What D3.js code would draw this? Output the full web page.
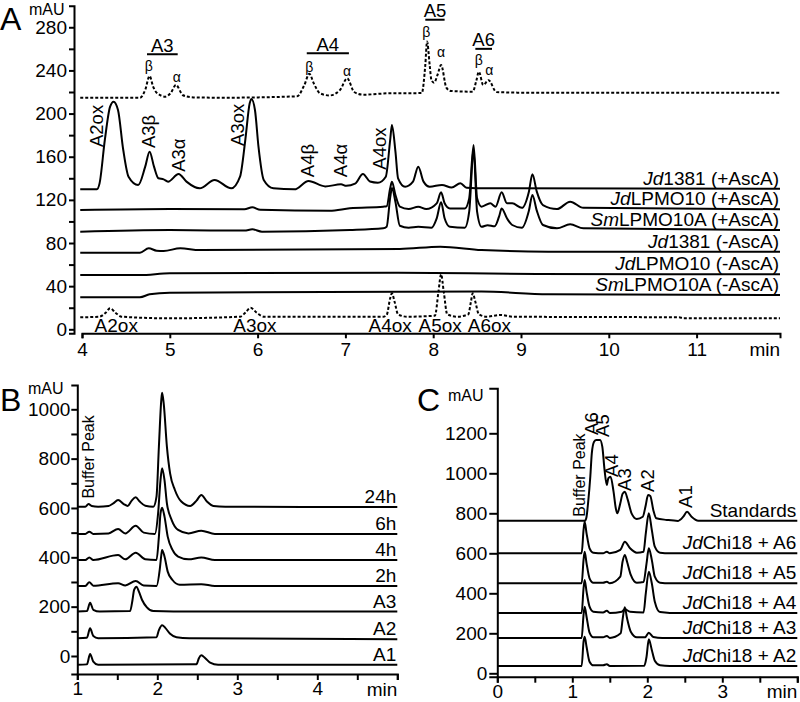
<!DOCTYPE html>
<html>
<head>
<meta charset="utf-8">
<script src="https://cdn.jsdelivr.net/npm/d3@7"></script>
<style>
  body { margin: 0; background: #fff; }
  text { font-family: "Liberation Sans", Arial, sans-serif; fill: #000; }
</style>
</head>
<body>
<svg id="chart" width="800" height="702"></svg>
<script>
// ---------- panel A : HPLC traces, [time (min), mAU] ----------
const aStdNative = [[3.98,214.7],[4.66,214.7],[4.72,222],[4.77,234.8],[4.81,225],[4.85,219.4],[4.95,215.7],[5.01,219],[5.07,226.5],[5.15,217],[5.27,215],[5.6,214.7],[6.45,216],[6.53,226],[6.59,236.8],[6.64,228],[6.71,218.8],[6.82,216.8],[6.94,222],[7.02,232.7],[7.1,220],[7.2,217.5],[7.5,218.8],[7.87,219],[7.91,245],[7.93,266.7],[7.96,245],[7.98,231],[8.01,228.6],[8.05,236],[8.09,245],[8.15,224],[8.2,221],[8.45,220.3],[8.49,230],[8.52,238.8],[8.57,226.5],[8.63,231],[8.72,220],[9.0,219.4],[11.95,219.4]];
const aJd1381Plus = [[3.98,129.8],[4.17,129.8],[4.2,135.3],[4.26,175.5],[4.32,206.4],[4.36,211],[4.41,203.3],[4.47,166.2],[4.53,141.5],[4.64,133.8],[4.72,150.8],[4.77,164.7],[4.82,150.8],[4.87,140],[4.93,139],[4.98,136.9],[5.1,144],[5.19,136.9],[5.34,130.7],[5.51,138.4],[5.7,130.7],[5.8,141.5],[5.86,175.5],[5.91,209.5],[5.93,213.6],[5.97,203.3],[6.01,169.3],[6.07,138.4],[6.18,130.7],[6.42,129.8],[6.58,137.5],[6.77,132.5],[6.95,134.4],[7.01,133],[7.11,135],[7.2,144],[7.28,137],[7.37,135.9],[7.46,141.5],[7.51,175.5],[7.53,189.4],[7.57,164.7],[7.6,140],[7.68,132.2],[7.77,136.9],[7.83,150.8],[7.89,136.9],[7.96,132.2],[8.1,133.8],[8.21,131.4],[8.31,135.4],[8.38,131.3],[8.6,130.7],[11.95,130.2]];
const aJdLPMO10Plus = [[3.98,110.6],[5.0,111.5],[5.85,111.3],[5.94,113.1],[6.03,110.8],[6.82,109.8],[7.05,112.2],[7.43,113.7],[7.47,114],[7.51,130.7],[7.53,136.9],[7.57,124.5],[7.62,113.7],[7.72,111.5],[7.83,113.7],[7.92,111.5],[8.04,116.8],[8.09,127],[8.13,116.8],[8.19,112],[8.36,112],[8.41,121.4],[8.46,170.9],[8.5,121.4],[8.55,113.7],[8.65,116.8],[8.71,113.7],[8.78,127],[8.84,116.8],[8.9,116.8],[9.01,112.6],[9.09,127.6],[9.13,143.7],[9.18,127.6],[9.25,115.2],[9.41,111.5],[9.56,118.3],[9.71,112.6],[11.95,111.3]];
const aSmLPMO10Plus = [[3.98,90.5],[5.0,92],[5.85,91.5],[5.94,92.7],[6.05,90.5],[7.05,92],[7.43,93.6],[7.47,95.1],[7.51,122],[7.53,131],[7.57,118],[7.62,96],[7.72,94.2],[7.83,95],[7.98,94.2],[8.04,102.9],[8.09,117.7],[8.13,102.9],[8.19,95],[8.36,94.2],[8.41,109],[8.46,166],[8.5,109],[8.55,95],[8.62,96.5],[8.7,95.5],[8.75,104.4],[8.78,112],[8.84,102.9],[8.9,96.7],[9.01,94.2],[9.09,110],[9.13,124.5],[9.18,110],[9.25,96.7],[9.41,93.6],[9.56,97.3],[9.71,93.6],[11.95,92]];
const aJd1381Minus = [[3.98,71],[4.66,71],[4.76,75.1],[4.85,72.9],[4.93,72.6],[5.12,75.1],[5.34,73.5],[7.62,74.4],[8.08,76.6],[8.55,73.5],[9.31,72],[11.95,72]];
const aJdLPMO10Minus = [[3.98,50.3],[4.66,50.3],[5.0,51.9],[7.6,52.5],[9.18,51.3],[11.95,51]];
const aSmLPMO10Minus = [[3.98,29.7],[4.66,29.7],[4.77,32.4],[5.0,33.9],[7.6,34.9],[8.55,35],[9.31,32.4],[11.95,31.8]];
const aStdOx = [[3.98,11.1],[4.2,11.7],[4.27,15.4],[4.32,19.5],[4.38,15.4],[4.45,11.7],[5.0,10.2],[5.8,11.7],[5.86,15.4],[5.92,20],[5.99,15.4],[6.07,11.7],[7.43,11.7],[7.47,13.3],[7.51,28.7],[7.53,33.4],[7.56,25.6],[7.6,13.9],[7.7,11.7],[8.02,12.6],[8.06,34.9],[8.09,51],[8.12,34.9],[8.16,13.9],[8.27,11.7],[8.4,13.9],[8.43,25.6],[8.45,33.4],[8.48,25.6],[8.52,13.9],[8.61,11.7],[8.76,13.3],[8.91,11.7],[10.8,11.1],[10.85,10.2],[11.95,10.2]];

const aTraceNames = [["Jd","1381 (+AscA)"],["Jd","LPMO10 (+AscA)"],["Sm","LPMO10A (+AscA)"],["Jd","1381 (-AscA)"],["Jd","LPMO10 (-AscA)"],["Sm","LPMO10A (-AscA)"]];
const aPeakLabels = [["A2ox",4.24,169],["A3β",4.83,168],["A3α",5.17,146],["A3ox",5.84,170],["A4β",6.64,141],["A4α",7.02,141],["A4ox",7.46,148]];
const aGroupLabels = [["A3",4.74,5.09,255],["A4",6.56,7.04,256],["A5",7.91,8.13,287],["A6",8.48,8.67,260]];
const aAnomerLabels = [["β",4.76,239.5],["α",5.08,229.6],["β",6.59,238.8],["α",7.02,234.8],["β",7.92,271.3],["α",8.09,252.7],["β",8.52,245],["α",8.64,235.8]];
const aOxLabels = [["A2ox",4.39],["A3ox",5.97],["A4ox",7.51],["A5ox",8.08],["A6ox",8.64]];
const aTicksX = [4,5,6,7,8,9,10,11];
const aTicksY = d3.range(0, 281, 20);

// ---------- panel B ----------
const b24h = [[1.0,605],[1.1,605],[1.14,616],[1.18,608],[1.26,605],[1.39,608],[1.45,619],[1.51,632],[1.58,616],[1.63,608],[1.68,630],[1.73,643],[1.78,626],[1.85,609],[1.95,605],[1.99,646],[2.02,849],[2.05,1038],[2.06,1067],[2.08,1024],[2.12,849],[2.16,740],[2.22,673],[2.3,626],[2.41,608],[2.49,630],[2.55,653],[2.62,626],[2.7,608],[2.85,605],[5.0,604]];
const b6h = [[1.0,495],[1.1,495],[1.15,504],[1.2,495],[1.39,497],[1.51,515],[1.6,497],[1.73,528],[1.83,500],[1.97,495],[2.01,578],[2.04,713],[2.06,761],[2.09,713],[2.12,619],[2.18,551],[2.26,511],[2.39,497],[2.55,508],[2.72,495],[5.0,495]];
const b4h = [[1.0,389],[1.1,389],[1.15,399],[1.2,389],[1.51,409],[1.6,392],[1.73,419],[1.85,392],[1.99,389],[2.02,484],[2.04,578],[2.06,601],[2.09,565],[2.13,484],[2.19,430],[2.26,403],[2.39,392],[2.55,399],[2.72,389],[5.0,389]];
const b2h = [[1.0,284],[1.1,284],[1.15,299],[1.2,285],[1.51,295],[1.6,286],[1.73,304],[1.83,286],[1.99,284],[2.03,349],[2.05,409],[2.06,430],[2.09,403],[2.13,342],[2.19,308],[2.28,289],[2.55,291],[2.72,284],[5.0,284]];
const bA3 = [[1.0,180],[1.12,182],[1.16,216],[1.2,187],[1.28,180],[1.66,182],[1.69,227],[1.71,268],[1.74,281],[1.77,261],[1.81,227],[1.87,197],[1.95,182],[2.2,180],[5.0,180]];
const bA2 = [[1.0,72],[1.12,74],[1.16,112],[1.2,81],[1.26,72],[1.99,76],[2.02,105],[2.06,125],[2.1,114],[2.16,90],[2.24,76],[2.4,72],[5.0,68]];
const bA1 = [[1.0,-36],[1.12,-34],[1.16,8],[1.2,-23],[1.26,-36],[2.49,-33],[2.52,-9],[2.55,3],[2.6,-9],[2.66,-27],[2.76,-36],[5.0,-36]];
const bTraceNames = ["24h","6h","4h","2h","A3","A2","A1"];
const bTicksX = d3.range(1, 5.01, 0.5);
const bTicksY = d3.range(0, 1001, 100);

// ---------- panel C ----------
const cStd = [[0,763],[1.17,763],[1.19,783],[1.21,850],[1.24,983],[1.26,1100],[1.29,1158],[1.32,1167],[1.37,1167],[1.4,1133],[1.43,1017],[1.46,942],[1.48,975],[1.51,983],[1.55,908],[1.58,825],[1.6,800],[1.64,850],[1.67,897],[1.7,908],[1.74,867],[1.79,800],[1.86,772],[1.94,783],[1.98,842],[2.01,892],[2.04,887],[2.08,817],[2.12,775],[2.26,767],[2.41,762],[2.48,783],[2.53,808],[2.59,783],[2.68,763],[4.0,763]];
const cA6 = [[0,600],[1.125,600],[1.15,717],[1.165,758],[1.19,700],[1.23,625],[1.28,603],[1.41,600],[1.46,608],[1.5,600],[1.64,617],[1.7,658],[1.77,625],[1.86,603],[1.95,608],[1.98,700],[2.02,800],[2.06,717],[2.1,633],[2.17,603],[2.3,600],[4.0,600]];
const cA5 = [[0,450],[1.125,450],[1.15,567],[1.165,608],[1.19,550],[1.23,475],[1.28,453],[1.41,453],[1.46,458],[1.5,450],[1.64,483],[1.67,558],[1.7,592],[1.73,558],[1.78,492],[1.86,453],[1.95,456],[1.99,550],[2.02,625],[2.06,567],[2.1,483],[2.17,453],[2.3,450],[4.0,450]];
const cA4 = [[0,302],[1.125,302],[1.15,425],[1.165,467],[1.19,408],[1.23,333],[1.28,308],[1.41,304],[1.46,313],[1.5,302],[1.66,308],[1.7,320],[1.77,308],[1.95,304],[1.98,400],[2.02,508],[2.06,450],[2.1,358],[2.17,306],[2.3,302],[4.0,302]];
const cA3 = [[0,177],[1.125,177],[1.15,292],[1.165,333],[1.19,283],[1.23,203],[1.28,180],[1.41,180],[1.46,187],[1.5,177],[1.645,200],[1.67,267],[1.7,330],[1.73,275],[1.78,208],[1.86,180],[1.97,180],[2.02,203],[2.08,182],[2.2,177],[4.0,177]];
const cA2 = [[0,37],[1.125,37],[1.15,158],[1.165,183],[1.19,133],[1.23,58],[1.28,40],[1.41,40],[1.46,45],[1.5,37],[1.96,38],[1.99,83],[2.02,170],[2.06,117],[2.1,63],[2.17,40],[2.3,37],[4.0,37]];
const cTraceNames = [["","Standards"],["Jd","Chi18 + A6"],["Jd","Chi18 + A5"],["Jd","Chi18 + A4"],["Jd","Chi18 + A3"],["Jd","Chi18 + A2"]];
const cPeakLabels = [["Buffer Peak",1.17,783],["A6",1.34,1192],["A5",1.49,1182],["A4",1.61,982],["A3",1.78,912],["A2",2.09,907],["A1",2.6,827]];
const cTicksX = d3.range(0, 4.01, 0.5);
const cTicksY = d3.range(0, 1201, 200);

const svg = d3.select("#chart");

function drawPanel(p) {
  const g = svg.append("g");
  const x = p.x, y = p.y;

  // axes
  const xa = g.append("g")
    .attr("transform", "translate(0," + p.axisY + ")")
    .call(d3.axisBottom(x).tickValues(p.ticksX).tickSize(p.tickX).tickSizeOuter(p.tickX)
      .tickPadding(p.padX).tickFormat(p.fmtX));
  const ya = g.append("g")
    .attr("transform", "translate(" + p.axisX + ",0)")
    .call(d3.axisLeft(y).tickValues(p.ticksY).tickSize(p.tickY).tickSizeOuter(p.tickY)
      .tickPadding(p.padY).tickFormat(p.fmtY));
  [xa, ya].forEach(a => {
    a.attr("font-size", 19).attr("font-family", "Liberation Sans, Arial, sans-serif");
    a.selectAll("path, line").attr("stroke-width", 2);
  });

  g.append("text").attr("x", x.range()[1]).attr("y", p.axisY + p.minDy)
    .attr("text-anchor", "end").attr("font-size", 19).text("min");
  g.append("text").attr("x", p.mauX).attr("y", p.mauY).attr("font-size", 16).text("mAU");
  g.append("text").attr("x", p.letterX).attr("y", p.letterY).attr("font-size", 32).text(p.letter);

  const line = d3.line().x(d => x(d[0])).y(d => y(d[1])).curve(d3.curveMonotoneX);
  p.traces.forEach(t => {
    g.append("path").datum(t.data).attr("d", line)
      .attr("fill", "none").attr("stroke", "#000").attr("stroke-width", 2)
      .attr("stroke-linejoin", "round")
      .attr("stroke-dasharray", t.dotted ? "3,2" : null);
    if (t.name) {
      const last = t.data[t.data.length - 1];
      const tx = g.append("text").attr("x", x.range()[1] - 1).attr("y", y(last[1]) - 4)
        .attr("text-anchor", "end").attr("font-size", 19);
      if (t.name[0]) tx.append("tspan").attr("font-style", "italic").text(t.name[0]);
      tx.append("tspan").text(t.name[1]);
    }
  });

  (p.rotLabels || []).forEach(l => {
    g.append("text").attr("transform", "translate(" + x(l[1]) + "," + y(l[2]) + ") rotate(-90)")
      .attr("font-size", l[0] === "Buffer Peak" ? 16 : 18.5).text(l[0]);
  });
  return g;
}

// panel A
const xA = d3.scaleLinear().domain([4, 11.95]).range([82, 780]);
const yA = d3.scaleLinear().domain([-3.7, 300]).range([333.3, 5.7]);
const gA = drawPanel({
  x: xA, y: yA, axisY: 333.3, axisX: 74,
  ticksX: aTicksX, tickX: 5, padX: 4, fmtX: d => d, minDy: 23,
  ticksY: aTicksY, tickY: 5, padY: 2, fmtY: d => d % 40 === 0 ? d : "",
  letter: "A", letterX: 0, letterY: 30, mauX: 29, mauY: 15,
  traces: [
    {data: aStdNative, dotted: true},
    {data: aJd1381Plus, name: aTraceNames[0]},
    {data: aJdLPMO10Plus, name: aTraceNames[1]},
    {data: aSmLPMO10Plus, name: aTraceNames[2]},
    {data: aJd1381Minus, name: aTraceNames[3]},
    {data: aJdLPMO10Minus, name: aTraceNames[4]},
    {data: aSmLPMO10Minus, name: aTraceNames[5]},
    {data: aStdOx, dotted: true}
  ],
  rotLabels: aPeakLabels
});
aGroupLabels.forEach(l => {
  gA.append("line").attr("x1", xA(l[1])).attr("x2", xA(l[2]))
    .attr("y1", yA(l[3])).attr("y2", yA(l[3])).attr("stroke", "#000").attr("stroke-width", 2);
  gA.append("text").attr("x", (xA(l[1]) + xA(l[2])) / 2).attr("y", yA(l[3]) - 2.5)
    .attr("text-anchor", "middle").attr("font-size", 18.5).text(l[0]);
});
aAnomerLabels.forEach(l => {
  gA.append("text").attr("x", xA(l[1])).attr("y", yA(l[2]))
    .attr("text-anchor", "middle").attr("font-size", 14).text(l[0]);
});
aOxLabels.forEach(l => {
  gA.append("text").attr("x", xA(l[1])).attr("y", yA(-2.5))
    .attr("text-anchor", "middle").attr("font-size", 19).text(l[0]);
});

// panel B
const xB = d3.scaleLinear().domain([1, 5]).range([77.3, 397.3]);
const yB = d3.scaleLinear().domain([-73, 1098.5]).range([674, 385]);
drawPanel({
  x: xB, y: yB, axisY: 674, axisX: 77.3,
  ticksX: bTicksX, tickX: 6, padX: 2, fmtX: d => (d % 1 === 0 && d < 5) ? d : "", minDy: 22,
  ticksY: bTicksY, tickY: 6, padY: 1, fmtY: d => d % 200 === 0 ? d : "",
  letter: "B", letterX: 0, letterY: 411, mauX: 28, mauY: 394,
  traces: [b24h, b6h, b4h, b2h, bA3, bA2, bA1].map((d, i) => ({data: d, name: ["", bTraceNames[i]]})),
  rotLabels: [["Buffer Peak", 1.21, 638]]
});

// panel C
const xC = d3.scaleLinear().domain([0, 4]).range([497.3, 797.3]);
const yC = d3.scaleLinear().domain([-17, 1425]).range([676.7, 388.3]);
drawPanel({
  x: xC, y: yC, axisY: 676.7, axisX: 497.3,
  ticksX: cTicksX, tickX: 6, padX: 2, fmtX: d => (d % 1 === 0 && d < 4) ? d : "", minDy: 21,
  ticksY: cTicksY, tickY: 8, padY: 2, fmtY: d => d,
  letter: "C", letterX: 417, letterY: 411, mauX: 448, mauY: 401,
  traces: [cStd, cA6, cA5, cA4, cA3, cA2].map((d, i) => ({data: d, name: cTraceNames[i]})),
  rotLabels: cPeakLabels
});
</script>
</body>
</html>
